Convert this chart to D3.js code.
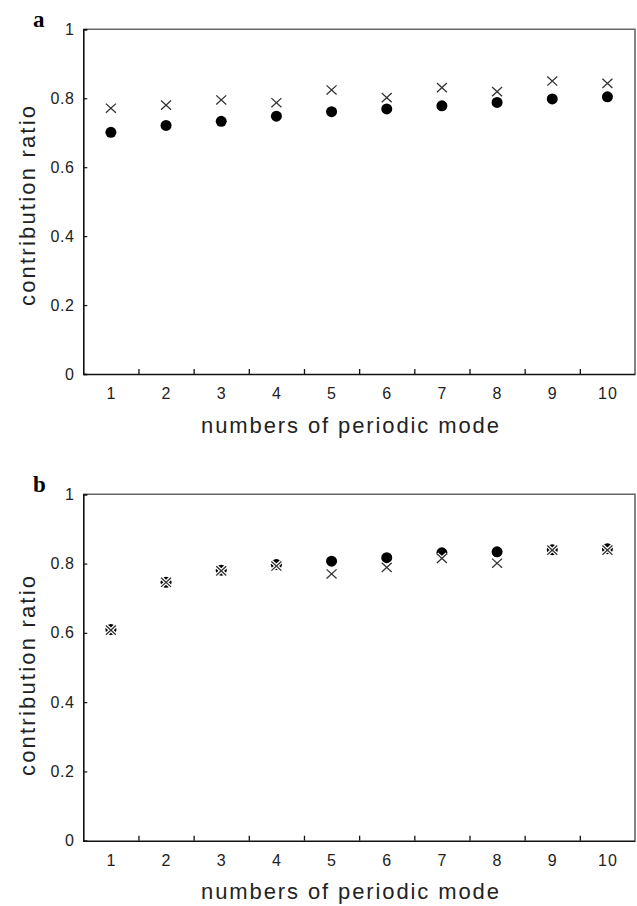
<!DOCTYPE html>
<html>
<head>
<meta charset="utf-8">
<script src="https://cdn.jsdelivr.net/npm/d3@7"></script>
<style>
  body { margin: 0; background: #fff; }
  svg { display: block; }
</style>
</head>
<body>
<svg id="chart" width="637" height="906"></svg>
<script>
// periodic modes on the x axis
const modes = [1, 2, 3, 4, 5, 6, 7, 8, 9, 10];
const yTicks = [0, 0.2, 0.4, 0.6, 0.8, 1];

// panel a
const aDots  = [0.701, 0.721, 0.733, 0.748, 0.761, 0.769, 0.778, 0.788, 0.798, 0.804];
const aCross = [0.771, 0.780, 0.795, 0.787, 0.824, 0.802, 0.831, 0.819, 0.850, 0.843];

// panel b
const bDots  = [0.610, 0.746, 0.781, 0.797, 0.807, 0.817, 0.831, 0.834, 0.840, 0.843];
const bCross = [0.608, 0.746, 0.779, 0.793, 0.770, 0.789, 0.815, 0.801, 0.839, 0.839];

const svg = d3.select("#chart");
const sans = "Arial, 'Liberation Sans', sans-serif";

function drawPanel(p) {
    const x = d3.scaleLinear().domain([0.5, 10.5]).range([p.left, p.right]);
    const y = d3.scaleLinear().domain([0, 1]).range([p.bottom, p.top]);
    const g = svg.append("g");

    // top / right frame (lighter grey)
    g.append("path")
        .attr("d", `M${p.left},${p.top}H${p.right}V${p.bottom}`)
        .attr("fill", "none")
        .attr("stroke", "#666")
        .attr("stroke-width", 1.6);

    // y axis, ticks pointing inwards
    const yAxis = g.append("g")
        .attr("transform", `translate(${p.left},0)`)
        .call(d3.axisLeft(y).tickValues(yTicks).tickSize(-4).tickPadding(9)
            .tickFormat(d => d === 0 ? "0" : d === 1 ? "1" : d3.format(".1f")(d)));
    yAxis.select(".domain").attr("stroke", "#111").attr("stroke-width", 1.6);
    yAxis.selectAll(".tick line").attr("stroke", "#111").attr("stroke-width", 1.2);
    yAxis.selectAll(".tick text")
        .attr("font-family", sans).attr("font-size", 16)
        .attr("fill", "#222").attr("letter-spacing", "0.5px");

    // x axis: labels at centres, ticks at category boundaries
    const xAxis = g.append("g")
        .attr("transform", `translate(0,${p.bottom})`)
        .call(d3.axisBottom(x).tickValues(modes).tickSize(0).tickPadding(14));
    xAxis.select(".domain").attr("stroke", "#111").attr("stroke-width", 1.6);
    xAxis.selectAll(".tick text")
        .attr("font-family", sans).attr("font-size", 16)
        .attr("fill", "#222").attr("letter-spacing", "1px");

    const bounds = modes.slice(1).map(m => m - 0.5);
    g.append("g")
        .attr("transform", `translate(0,${p.bottom})`)
        .call(d3.axisBottom(x).tickValues(bounds).tickSize(-5).tickFormat(""))
        .call(s => s.select(".domain").remove())
        .selectAll(".tick line").attr("stroke", "#111").attr("stroke-width", 1.3);

    // filled dots
    g.append("g").selectAll("circle")
        .data(p.dots)
        .join("circle")
        .attr("cx", (d, i) => x(modes[i]))
        .attr("cy", d => y(d))
        .attr("r", 5.5)
        .attr("fill", "#000");

    // crosses, with a white halo beneath
    const crossPath = (d, i) => {
        const cx = x(modes[i]), cy = y(d), w = 5, h = 4.6;
        return `M${cx - w},${cy - h}L${cx + w},${cy + h}M${cx - w},${cy + h}L${cx + w},${cy - h}`;
    };
    g.append("g").selectAll("path")
        .data(p.cross)
        .join("path")
        .attr("d", crossPath)
        .attr("stroke", "#fff")
        .attr("stroke-width", 3.8);
    g.append("g").selectAll("path")
        .data(p.cross)
        .join("path")
        .attr("d", crossPath)
        .attr("stroke", "#333")
        .attr("stroke-width", 1.3);

    // axis titles
    g.append("text")
        .attr("x", 350)
        .attr("y", p.bottom + p.xTitleDy)
        .attr("text-anchor", "middle")
        .attr("textLength", 298)
        .attr("lengthAdjust", "spacing")
        .style("font-family", sans)
        .style("font-size", "22px")
        .style("fill", "#222")
        .text("numbers of periodic mode");

    g.append("text")
        .attr("transform", `translate(35,${p.yTitleY}) rotate(-90)`)
        .attr("text-anchor", "middle")
        .attr("textLength", 200)
        .attr("lengthAdjust", "spacing")
        .style("font-family", sans)
        .style("font-size", "22px")
        .style("fill", "#222")
        .text("contribution ratio");

    // panel letter
    g.append("text")
        .attr("x", 33)
        .attr("y", p.top - 2.5)
        .style("font-family", "'Liberation Serif', 'Times New Roman', serif")
        .style("font-weight", "bold")
        .style("font-size", "23px")
        .text(p.label);
}

drawPanel({ label: "a", left: 83.3, right: 635, top: 29.3, bottom: 374,
            dots: aDots, cross: aCross, xTitleDy: 59, yTitleY: 206 });
drawPanel({ label: "b", left: 83.3, right: 635, top: 494.3, bottom: 840.7,
            dots: bDots, cross: bCross, xTitleDy: 58.5, yTitleY: 676 });
</script>
</body>
</html>
